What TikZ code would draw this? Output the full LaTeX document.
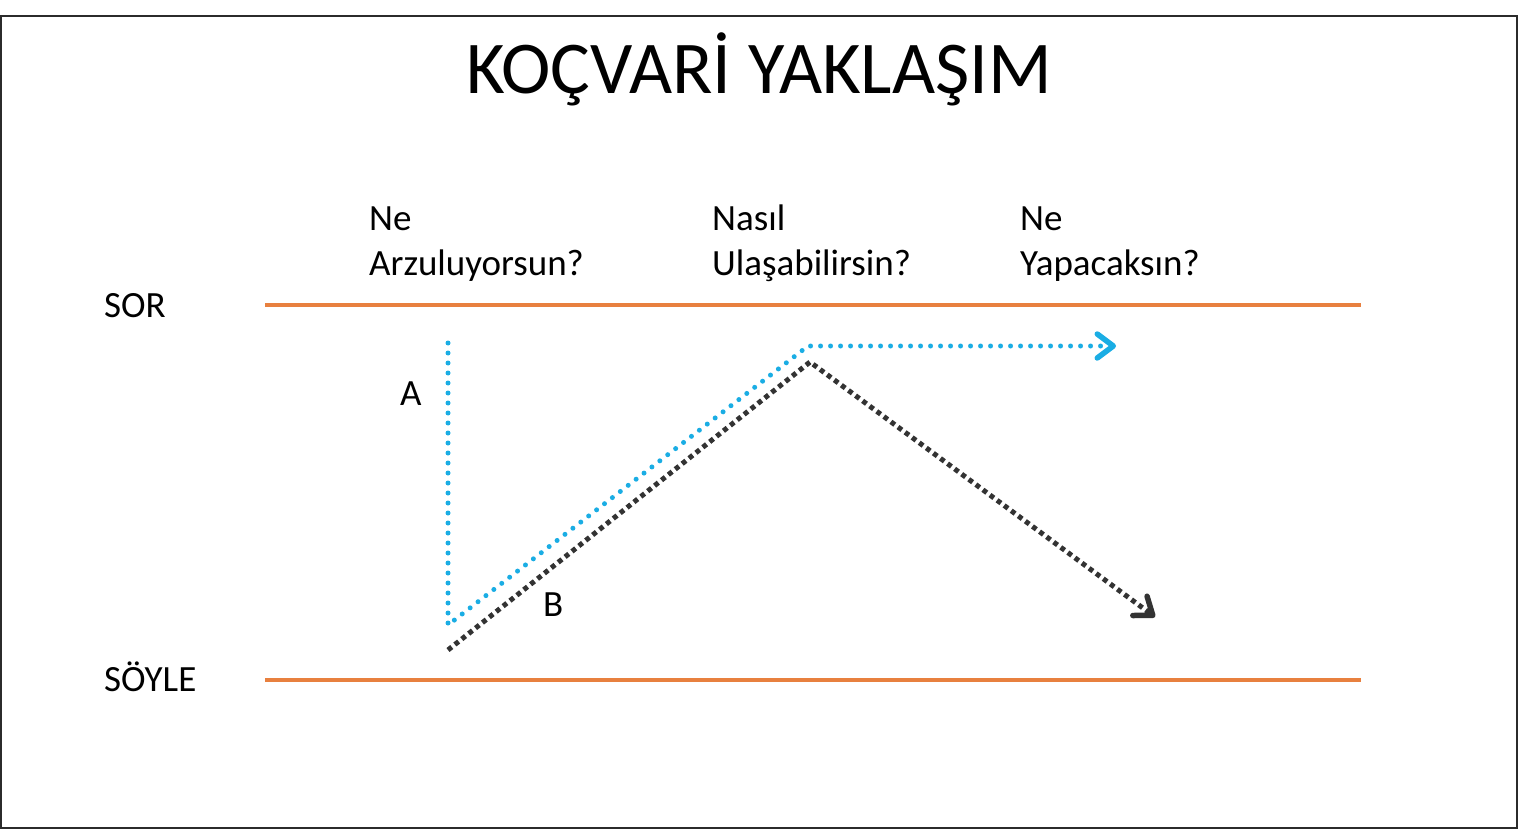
\documentclass[tikz,border=0pt]{standalone}
\usepackage{fontspec}
\setmainfont{Carlito}
\usetikzlibrary{arrows.meta}
\definecolor{frame}{HTML}{2B2B2B}
\definecolor{orangeline}{HTML}{E8803F}
\definecolor{bluedot}{HTML}{1AADE4}
\definecolor{darkdot}{HTML}{333333}
\tikzset{
  lbl/.style={anchor=base west, inner sep=0pt, font=\fontsize{37}{46}\selectfont},
  ttl/.style={anchor=base, inner sep=0pt, font=\fontsize{74.5}{80}\selectfont},
  band/.style={orangeline, line width=4pt},
  bluepath/.style={bluedot, line width=5pt, line cap=round, dash pattern=on 0pt off 10pt},
  darkpath/.style={darkdot, line width=5pt, line cap=butt, dash pattern=on 4.8pt off 4pt},
  tip/.style={-{Straight Barb[length=16pt,width=24pt,line width=5.5pt,round]}},
}
\begin{document}
\begin{tikzpicture}[x=1pt,y=-1pt]
\useasboundingbox (0,0) rectangle (1518,829);
\draw[frame, line width=2.2pt] (1,16) rectangle (1517,828);
\node[ttl] (title) at (759,94) {KOÇVARİ YAKLAŞIM};
% labels
\node[lbl] (q1a) at (369,230) {Ne};
\node[lbl] (q1b) at (369,276) {Arzuluyorsun?};
\node[lbl] (q2a) at (712,230) {Nasıl};
\node[lbl] (q2b) at (712,276) {Ulaşabilirsin?};
\node[lbl] (q3a) at (1020,230) {Ne};
\node[lbl] (q3b) at (1020,276) {Yapacaksın?};
\node[lbl] (sor) at (104,317) {SOR};
\node[lbl] (soyle) at (104,691) {SÖYLE};
\node[lbl] (la) at (400,405) {A};
\node[lbl] (lb) at (543,616) {B};
% orange lines
\coordinate (s1) at (265,305); \coordinate (s2) at (1361,305);
\coordinate (t1) at (265,680); \coordinate (t2) at (1361,680);
\draw[band] (s1) -- (s2);
\draw[band] (t1) -- (t2);
% blue path
\coordinate (b0) at (448,343);
\coordinate (b1) at (448,625);
\coordinate (b2) at (808,346);
\coordinate (b3) at (1116,346);
\draw[bluepath, tip] (b0) -- (b1) -- (b2) -- (b3);
% dark path
\coordinate (d0) at (448,650);
\coordinate (d1) at (810,362);
\coordinate (d2) at (1155,617);
\draw[darkpath, tip] (d0) -- (d1) -- (d2);
\end{tikzpicture}
\end{document}
